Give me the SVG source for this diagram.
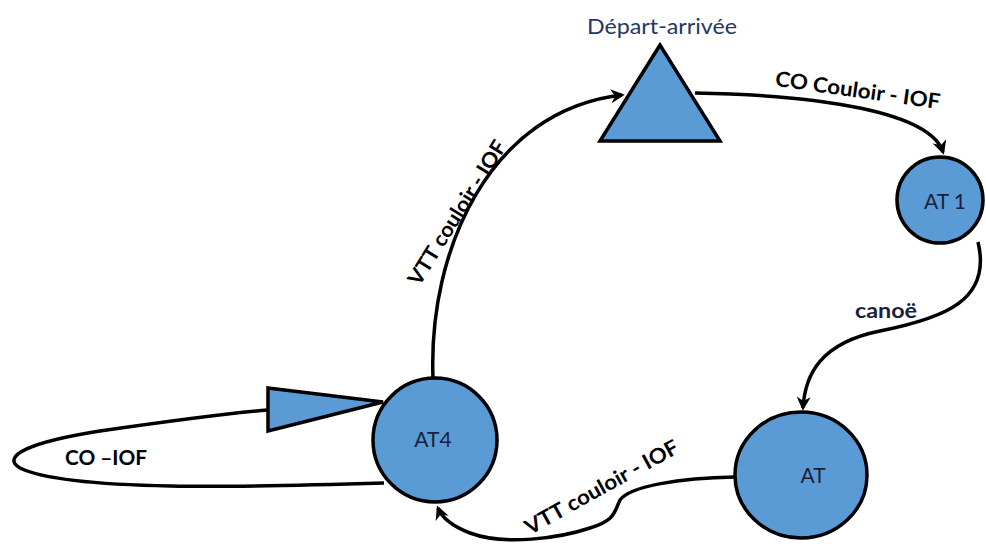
<svg xmlns="http://www.w3.org/2000/svg" width="986" height="544" viewBox="0 0 986 544">
<defs>
<marker id="arr" viewBox="0 0 10 10" refX="8" refY="5" markerWidth="4" markerHeight="4" orient="auto" markerUnits="strokeWidth">
<path d="M0,0 L10,5 L0,10 L3,5 Z" fill="#000"/>
</marker>
<style>
.node{fill:#5B9BD5;stroke:#000;stroke-width:3.5}
.edge{fill:none;stroke:#000;stroke-width:3.5}
.nl{font-family:Lato,"Liberation Sans",sans-serif;font-size:21px;fill:#1a1f3a;text-anchor:middle;dominant-baseline:central}
.el{font-family:Lato,"Liberation Sans",sans-serif;font-size:21px;font-weight:bold;fill:#000;text-anchor:middle;dominant-baseline:central}
</style>
</defs>
<rect width="986" height="544" fill="#fff"/>
<g id="connectors">
<path class="edge" d="M433,378 C428,250 490,110 622,95" marker-end="url(#arr)"/>
<path class="edge" d="M695,93 C820,95 930,112 943,152" marker-end="url(#arr)"/>
<path class="edge" d="M978,242 C992,300 945,318 880,331 C820,343 805,375 803,408" marker-end="url(#arr)"/>
<path class="edge" d="M735,477 C680,478 630,486 620,500 C614,512 616,520 590,528 C560,538 505,546 470,533 C452,526 442,518 438,508" marker-end="url(#arr)"/>
<path class="edge" d="M384,483 C250,487 70,492 20,468 C0,456 30,442 100,431 C170,421 230,413 268,410"/>
</g>
<g id="loop-arrow">
<polygon class="node" points="268,388 268,431 383,402"/>
</g>
<g id="depart">
<polygon class="node" points="660,45 600,141 720,141"/>
<text class="nl" x="662" y="25" textLength="150" lengthAdjust="spacingAndGlyphs" style="fill:#1F3864;font-size:21px">Départ-arrivée</text>
</g>
<g id="at1">
<ellipse class="node" cx="940" cy="200" rx="43" ry="43"/>
<text class="nl" x="945" y="200">AT 1</text>
</g>
<g id="at4">
<ellipse class="node" cx="435" cy="440" rx="62" ry="62"/>
<text class="nl" x="433" y="438">AT4</text>
</g>
<g id="at">
<ellipse class="node" cx="801" cy="475" rx="66" ry="63"/>
<text class="nl" x="813" y="474">AT</text>
</g>
<g id="labels">
<text class="el" transform="translate(858,89) rotate(8)" textLength="166" lengthAdjust="spacingAndGlyphs">CO Couloir - IOF</text>
<text class="el" transform="translate(456,212) rotate(-58)" textLength="166" lengthAdjust="spacingAndGlyphs">VTT couloir - IOF</text>
<text class="el" transform="translate(601,486) rotate(-29)" textLength="172" lengthAdjust="spacingAndGlyphs">VTT couloir - IOF</text>
<text class="el" x="886" y="309" textLength="62" lengthAdjust="spacingAndGlyphs" style="fill:#1a1f3a">canoë</text>
<text class="el" x="106" y="456" textLength="82" lengthAdjust="spacingAndGlyphs">CO –IOF</text>
</g>
</svg>
